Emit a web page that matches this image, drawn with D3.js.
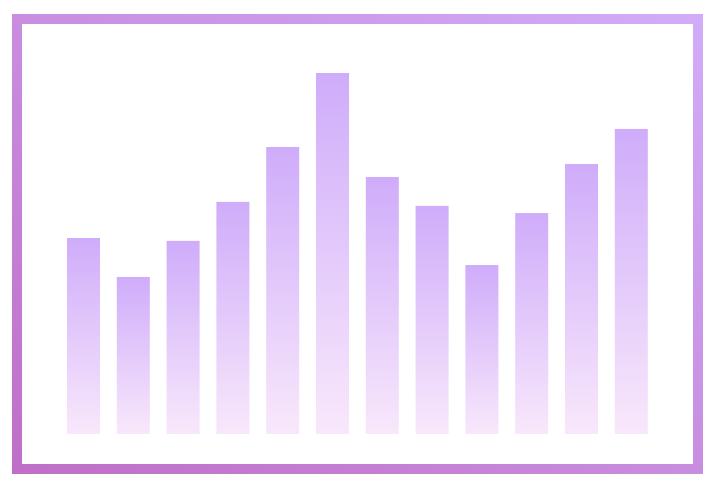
<!DOCTYPE html>
<meta charset="utf-8">
<style>
body { margin: 0; background: #fff; }
</style>
<body>
<script src="https://d3js.org/d3.v7.min.js"></script>
<script>

var categories = ["1", "2", "3", "4", "5", "6", "7", "8", "9", "10", "11", "12"];
var values = [54.3, 43.5, 53.5, 64.3, 79.5, 100, 71.2, 63.2, 46.8, 61.2, 74.8, 84.5];

var width = 711,
    height = 489;

var svg = d3.select("body").append("svg")
    .attr("width", width)
    .attr("height", height);

var defs = svg.append("defs");

var frameGrad = defs.append("linearGradient")
    .attr("id", "frameGrad")
    .attr("x1", 0).attr("y1", 1)
    .attr("x2", 1).attr("y2", 0);
frameGrad.append("stop").attr("offset", "0%").attr("stop-color", "#bf6fc7");
frameGrad.append("stop").attr("offset", "100%").attr("stop-color", "#d2acf9");

var barGrad = defs.append("linearGradient")
    .attr("id", "barGrad")
    .attr("x1", 0).attr("y1", 0)
    .attr("x2", 0).attr("y2", 1);
barGrad.append("stop").attr("offset", "0%").attr("stop-color", "#cfacfa");
barGrad.append("stop").attr("offset", "100%").attr("stop-color", "#f8e8fb");

var x = d3.scaleBand()
    .domain(categories)
    .range([58.6, 656.2])
    .paddingInner(0.337)
    .paddingOuter(0.1685);

var y = d3.scaleLinear()
    .domain([0, 100])
    .range([434, 73]);

// frame
svg.append("rect")
    .attr("x", 17)
    .attr("y", 19)
    .attr("width", 681)
    .attr("height", 450)
    .attr("fill", "#fff")
    .attr("stroke", "url(#frameGrad)")
    .attr("stroke-width", 10);

svg.append("g")
  .selectAll("rect")
    .data(values)
  .enter().append("rect")
    .attr("x", function(d, i) { return x(categories[i]); })
    .attr("y", function(d) { return y(d); })
    .attr("width", x.bandwidth())
    .attr("height", function(d) { return y(0) - y(d); })
    .attr("fill", "url(#barGrad)");

</script>
</body>
